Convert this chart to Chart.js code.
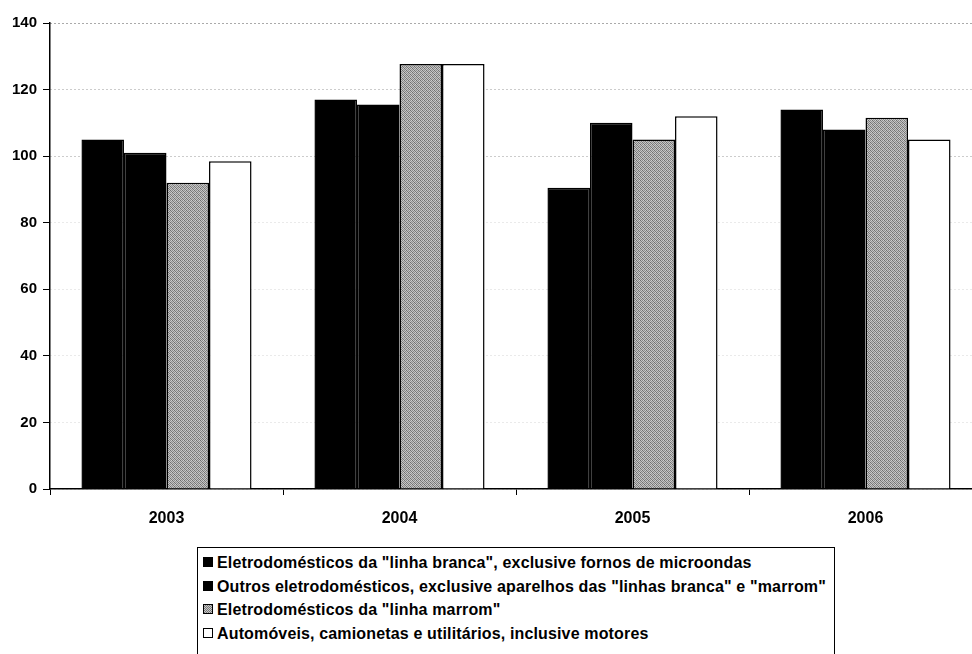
<!DOCTYPE html>
<html>
<head>
<meta charset="utf-8">
<script src="https://cdn.jsdelivr.net/npm/chart.js@4"></script>
<style>
  html, body { margin:0; padding:0; background:#fff; overflow:hidden; width:972px; height:654px; }
  #wrap { position:absolute; left:0; top:0; width:985px; height:540px; }
  #legend { position:absolute; left:197px; top:547px; width:636px; height:120px; border:1px solid #000; border-bottom:none;
    font-family:"Liberation Sans", Arial, sans-serif; font-weight:bold; font-size:16px; letter-spacing:0.15px; color:#000; }
  .item { position:absolute; left:5px; height:20px; line-height:20px; white-space:nowrap; }
  .sw { display:inline-block; width:8px; height:8px; border:1px solid #000; margin-right:4px; vertical-align:1px; }
</style>
</head>
<body>
<div id="wrap"><canvas id="c" width="985" height="540"></canvas></div>
<div id="legend"></div>
<script>
const categories = ["2003", "2004", "2005", "2006"];
const seriesNames = [
  'Eletrodomésticos da "linha branca", exclusive fornos de microondas',
  'Outros eletrodomésticos, exclusive aparelhos das "linhas branca" e "marrom"',
  'Eletrodomésticos da "linha marrom"',
  'Automóveis, camionetas e utilitários, inclusive motores'
];
const linhaBranca = [105, 117, 90.5, 114];
const outros = [101, 115.5, 110, 108];
const linhaMarrom = [92, 127.7, 105, 111.5];
const automoveis = [98.5, 127.7, 112, 105];
const yTicks = [0, 20, 40, 60, 80, 100, 120, 140];

function grayPattern() {
  const p = document.createElement('canvas');
  p.width = 4; p.height = 4;
  const g = p.getContext('2d');
  const cols = ['#6e6e6e','#c4c4c4','#8a8a8a','#d0d0d0','#bcbcbc','#7c7c7c','#c8c8c8','#939393',
                '#8e8e8e','#cacaca','#707070','#bfbfbf','#c6c6c6','#858585','#c0c0c0','#787878'];
  for (let i = 0; i < 16; i++) { g.fillStyle = cols[i]; g.fillRect(i % 4, Math.floor(i / 4), 1, 1); }
  return g.createPattern(p, 'repeat');
}
const ctx = document.getElementById('c').getContext('2d');
const pat = grayPattern();
const fills = ['#000000', '#000000', pat, '#ffffff'];
const swatchCss = ['#000', '#000', 'repeating-conic-gradient(#777 0 25%, #c8c8c8 0 50%) 0 0/2px 2px', '#fff'];
const values = [linhaBranca, outros, linhaMarrom, automoveis];

new Chart(ctx, {
  type: 'bar',
  data: {
    labels: categories,
    datasets: values.map((v, i) => ({
      label: seriesNames[i],
      data: v,
      backgroundColor: fills[i],
      borderColor: '#000',
      borderWidth: 1.5,
      borderSkipped: 'bottom',
      categoryPercentage: 0.73,
      barPercentage: 1.0
    }))
  },
  options: {
    responsive: false,
    animation: false,
    layout: { padding: { top: 23, right: 3, left: 0, bottom: 0 } },
    plugins: { legend: { display: false }, tooltip: { enabled: false } },
    scales: {
      x: {
        grid: { drawOnChartArea: false, drawTicks: true, tickLength: 6, tickColor: '#000', offset: true },
        border: { color: '#000', width: 1.5 },
        ticks: { color: '#000', padding: 14, font: { family: 'Liberation Sans', weight: 'bold', size: 16 } },
        afterFit: s => { s.height = 51; }
      },
      y: {
        min: 0, max: 140,
        afterBuildTicks: s => { s.ticks = yTicks.map(v => ({ value: v })); },
        grid: {
          color: c => c.tick && c.tick.value === 140 ? '#555' : (c.tick && c.tick.value >= 100 ? '#999' : '#d4d4d4'),
          lineWidth: 1,
          tickLength: 7, tickColor: '#000', tickBorderDash: []
        },
        border: { color: '#000', width: 1.5, dash: [1, 3] },
        ticks: { color: '#000', padding: 6, font: { family: 'Liberation Sans', weight: 'bold', size: 15 } },
        afterFit: s => { s.width = 50; }
      }
    }
  }
});

const leg = document.getElementById('legend');
seriesNames.forEach((n, i) => {
  const d = document.createElement('div');
  d.className = 'item';
  d.style.top = (5 + i * 23.5) + 'px';
  const sw = document.createElement('span');
  sw.className = 'sw';
  sw.style.background = swatchCss[i];
  d.appendChild(sw);
  d.appendChild(document.createTextNode(n));
  leg.appendChild(d);
});
</script>
</body>
</html>
